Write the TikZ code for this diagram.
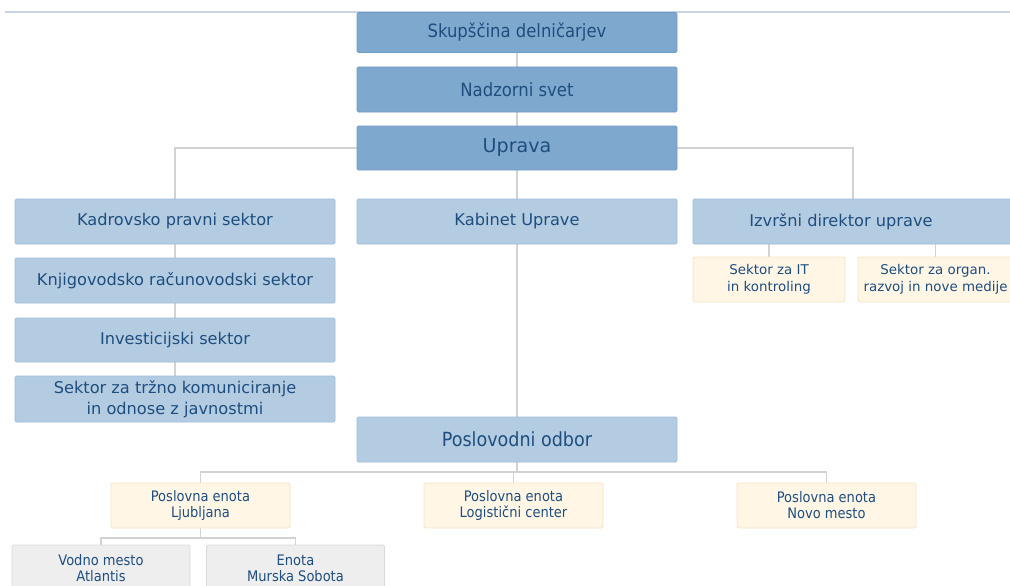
\documentclass[tikz,border=0pt]{standalone}
\usepackage{fontspec}
\setmainfont{DejaVu Sans}
\newfontfamily\condfont{DejaVu Sans Condensed}
\usetikzlibrary{backgrounds}
\definecolor{txtc}{HTML}{1E4E7E}
\definecolor{dkfill}{HTML}{7FA8CF}
\definecolor{dkdraw}{HTML}{6F9AC4}
\definecolor{ltfill}{HTML}{B4CCE2}
\definecolor{ltdraw}{HTML}{9DBBD8}
\definecolor{ylfill}{HTML}{FFF6E6}
\definecolor{yldraw}{HTML}{F6E3C2}
\definecolor{gyfill}{HTML}{EEEEEE}
\definecolor{gydraw}{HTML}{DADADA}
\definecolor{conc}{HTML}{D2D2D2}
\definecolor{topc}{HTML}{C8D4E6}
\tikzset{
  basebox/.style={rectangle, rounded corners=1.5pt, line width=0.9pt, text=txtc, align=center, inner sep=0pt},
  dkbox/.style={basebox, fill=dkfill, draw=dkdraw, minimum width=320pt, minimum height=44pt, font=\condfont\fontsize{18.3}{21}\selectfont},
  ltbox/.style={basebox, fill=ltfill, draw=ltdraw, minimum width=320pt, minimum height=45pt, font=\fontsize{16.2}{21}\selectfont},
  ylbox/.style={basebox, fill=ylfill, draw=yldraw, minimum height=45pt, font=\fontsize{13.4}{16.5}\selectfont},
  ylcbox/.style={basebox, fill=ylfill, draw=yldraw, minimum width=179pt, minimum height=45pt, font=\condfont\fontsize{14.5}{16}\selectfont},
  gybox/.style={basebox, fill=gyfill, draw=gydraw, minimum width=178pt, minimum height=46pt, font=\condfont\fontsize{14.5}{16}\selectfont},
  conn/.style={draw=conc, line width=1.3pt},
}
\begin{document}
\begin{tikzpicture}[x=1pt, y=-1pt]
\path[use as bounding box] (0,0) rectangle (1010,586);
% top rule
\coordinate (tl) at (5,12);
\coordinate (tr) at (1010,12);
\draw[topc, line width=1.5pt] (tl) -- (tr);
% top chain
\node[dkbox, minimum height=40pt] (sk) at (517,32.5) {Skupščina delničarjev};
\node[dkbox, minimum height=45pt] (nad) at (517,89.5) {Nadzorni svet};
\node[dkbox, font=\fontsize{19.1}{21}\selectfont] (upr) at (517,148) {Uprava};
% left column
\node[ltbox] (kad) at (175,221.5) {Kadrovsko pravni sektor};
\node[ltbox] (knj) at (175,280.5) {Knjigovodsko računovodski sektor};
\node[ltbox, minimum height=44pt] (inv) at (175,340) {Investicijski sektor};
\node[ltbox, minimum height=46pt] (trz) at (175,399) {Sektor za tržno komuniciranje\\in odnose z javnostmi};
% middle
\node[ltbox] (kab) at (517,221.5) {Kabinet Uprave};
% right
\node[ltbox] (izv) at (853,221.5) {\hspace*{-24pt}Izvršni direktor uprave};
\node[ylbox, minimum width=152pt] (it) at (769,279.5) {Sektor za IT\\in kontroling};
\node[ylbox, minimum width=155pt] (org) at (935.5,279.5) {Sektor za organ.\\razvoj in nove medije};
% Poslovodni odbor
\node[dkbox, fill=ltfill, draw=ltdraw, minimum height=45pt, font=\condfont\fontsize{19.5}{21}\selectfont] (pos) at (517,439.5) {Poslovodni odbor};
\node[ylcbox] (lj) at (200.5,505.5) {Poslovna enota\\Ljubljana};
\node[ylcbox] (log) at (513.5,505.5) {Poslovna enota\\Logistični center};
\node[ylcbox] (nm) at (826.5,505.5) {Poslovna enota\\Novo mesto};
\node[gybox] (va) at (101,568) {Vodno mesto\\Atlantis};
\node[gybox] (ms) at (295.5,568) {Enota\\Murska Sobota};
\begin{scope}[on background layer]
\draw[conn] (sk) -- (nad);
\draw[conn] (nad) -- (upr);
\draw[conn] (upr) -- (kab);
\draw[conn] (kad.north) -- (kad.north |- upr) -- (izv.north |- upr) -- (izv.north);
\draw[conn] (kad) -- (trz);
\draw[conn] (kab) -- (pos);
\draw[conn] (it.north) -- (it.north |- izv.south);
\draw[conn] (org.north) -- (org.north |- izv.south);
\draw[conn] (pos.south) -- (pos.south |- 0,472);
\draw[conn] (lj.north) -- (lj.north |- 0,472) -- (nm.north |- 0,472) -- (nm.north);
\draw[conn] (log.north) -- (log.north |- 0,472);
\draw[conn] (va.north) -- (va.north |- 0,538) -- (ms.north |- 0,538) -- (ms.north);
\draw[conn] (lj.south) -- (lj.south |- 0,538);
\end{scope}
\end{tikzpicture}
\end{document}
